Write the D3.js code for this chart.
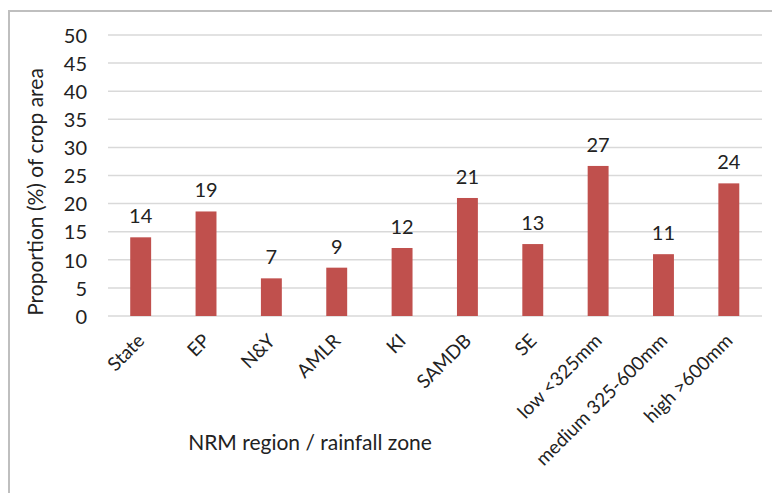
<!DOCTYPE html>
<html>
<head>
<meta charset="utf-8">
<script src="https://cdn.jsdelivr.net/npm/d3@7"></script>
<style>
  html, body { margin: 0; padding: 0; background: #fff; }
  svg text { font-family: Lato, "Open Sans", sans-serif; fill: #222; }
</style>
</head>
<body>
<svg id="chart" width="772" height="493"></svg>
<script>
// Share of crop area by NRM region and rainfall zone
const categories = ["State", "EP", "N&Y", "AMLR", "KI", "SAMDB", "SE",
  "low <325mm", "medium 325-600mm", "high >600mm"];
const values = [14.0, 18.6, 6.7, 8.6, 12.1, 21.0, 12.8, 26.7, 11.0, 23.6];
const yTicks = [0, 5, 10, 15, 20, 25, 30, 35, 40, 45, 50];

const svg = d3.select("#chart");
const margin = { top: 35, left: 108, right: 10, bottom: 177 };
const W = 772, H = 493;
const x0 = margin.left, x1 = W - margin.right;
const yTop = margin.top, yBot = H - margin.bottom;
const font = "Lato, 'Open Sans', sans-serif";

// Outer frame (top and left edges visible)
svg.append("path")
  .attr("d", `M9,${H} L9,11 L${W},11`)
  .attr("fill", "none")
  .attr("stroke", "#bfbfbf")
  .attr("stroke-width", 2);

const x = d3.scaleBand().domain(categories).range([x0, x1 - 0.5]).paddingInner(0.68).paddingOuter(0.34);
const y = d3.scaleLinear().domain([0, 50]).range([yBot, yTop]);

// Horizontal gridlines
svg.append("g").selectAll("line").data(yTicks).join("line")
  .attr("x1", x0).attr("x2", 762)
  .attr("y1", d => y(d)).attr("y2", d => y(d))
  .attr("stroke", "#d9d9d9").attr("stroke-width", 1.5);

// Y axis tick labels
const yAxis = d3.axisLeft(y).tickValues(yTicks).tickSize(0).tickPadding(0);
const gy = svg.append("g").attr("transform", `translate(87,0)`).call(yAxis);
gy.select(".domain").remove();
gy.selectAll("text").style("font-family", font)
  .style("font-size", "20px").attr("fill", "#1a1a1a").attr("dy", "0.36em");

// Bars
svg.append("g").selectAll("rect").data(categories).join("rect")
  .attr("x", d => x(d))
  .attr("width", x.bandwidth())
  .attr("y", (d, i) => y(values[i]))
  .attr("height", (d, i) => y(0) - y(values[i]))
  .attr("fill", "#c0504d");

// Value labels
const fmt = d3.format(".0f");
svg.append("g").selectAll("text").data(categories).join("text")
  .attr("x", d => x(d) + x.bandwidth() / 2)
  .attr("y", (d, i) => y(values[i]) - 14)
  .attr("text-anchor", "middle")
  .style("font-size", "20px")
  .text((d, i) => fmt(values[i]));

// X axis category labels, rotated
const xAxis = d3.axisBottom(x).tickSize(0).tickPadding(0);
const gx = svg.append("g").attr("transform", `translate(0,${yBot})`).call(xAxis);
gx.select(".domain").remove();
gx.selectAll("text")
  .style("font-family", font)
  .style("font-size", "19px")
  .attr("fill", "#1a1a1a")
  .attr("text-anchor", "end")
  .attr("dy", null).attr("y", null)
  .attr("transform", "translate(5,26) rotate(-45)");

// Axis titles
svg.append("text")
  .attr("transform", `translate(43,192) rotate(-90)`)
  .attr("text-anchor", "middle")
  .style("font-size", "21px")
  .text("Proportion (%) of crop area");

svg.append("text")
  .attr("x", 310).attr("y", 450)
  .attr("text-anchor", "middle")
  .style("font-size", "21px")
  .text("NRM region / rainfall zone");
</script>
</body>
</html>
